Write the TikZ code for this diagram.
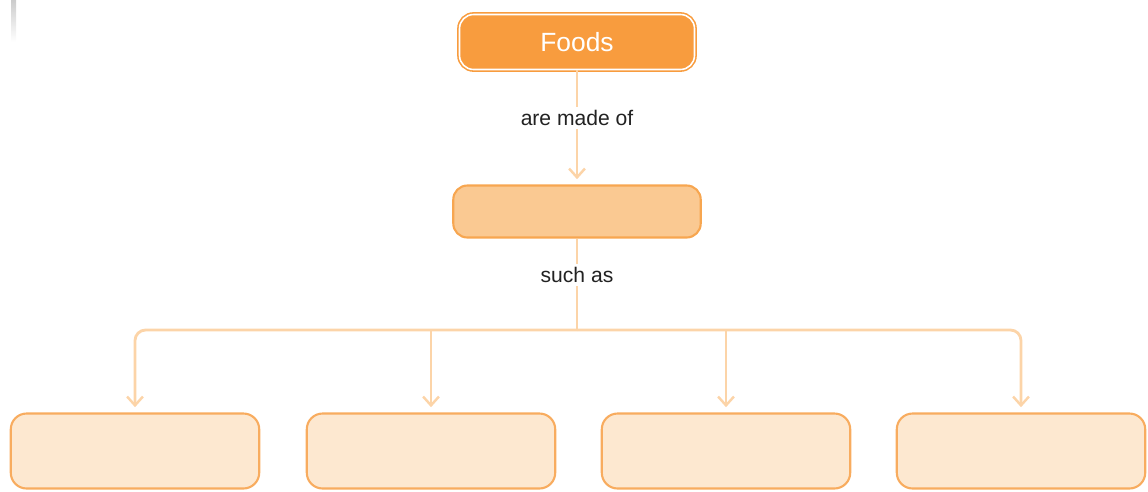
\documentclass[tikz,border=0pt]{standalone}
\usepackage{fontspec}
\setmainfont{Liberation Sans}
\usetikzlibrary{arrows.meta}
\usetikzlibrary{calc}

\definecolor{foods_orange}{RGB}{248,156,62}
\definecolor{mid_fill}{RGB}{250,201,146}
\definecolor{mid_border}{RGB}{247,166,80}
\definecolor{leaf_fill}{RGB}{253,232,208}
\definecolor{leaf_border}{RGB}{248,172,95}
\definecolor{link_color}{RGB}{252,212,168}
\definecolor{label_color}{RGB}{34,34,34}

\begin{document}
\begin{tikzpicture}[x=0.02cm, y=-0.02cm,
        root_style/.style={rectangle, rounded corners=8pt, fill=foods_orange, draw=foods_orange, double=white, double distance=0.9pt, line width=0.9pt, minimum width=4.7cm, minimum height=1.1cm, text=white, font=\fontsize{15}{15}\selectfont},
        mid_style/.style={rectangle, rounded corners=8pt, fill=mid_fill, draw=mid_border, line width=1.2pt, minimum width=4.95cm, minimum height=1.04cm},
        leaf_style/.style={rectangle, rounded corners=9pt, fill=leaf_fill, draw=leaf_border, line width=1.2pt, minimum width=4.97cm, minimum height=1.5cm},
        label_style/.style={fill=white, inner sep=2pt, text=label_color, font=\fontsize{12}{12}\selectfont},
        edge_style/.style={draw=link_color, line width=1.6pt, -{Straight Barb[length=5pt, width=9pt, line width=1.4pt]}, shorten >=3pt},
        line_style/.style={draw=link_color, line width=1.6pt}]

        \useasboundingbox (0,0) rectangle (1148,491);
        \shade [top color=black!20, bottom color=white] (11,0) rectangle (16,42);

        \node [root_style](foods) at (577,42) {Foods};
        \node [mid_style](mid) at (577,211.5) {};
        \node [leaf_style](leaf1) at (135,451) {};
        \node [leaf_style](leaf2) at (431,451) {};
        \node [leaf_style](leaf3) at (726,451) {};
        \node [leaf_style](leaf4) at (1021,451) {};
        \coordinate (split) at (577,330);

        \draw [edge_style] (foods) -- node[label_style, pos=0.42]{are made of} (mid);
        \draw [line_style] (mid) -- node[label_style, pos=0.4]{such as} (split);
        \draw [edge_style, rounded corners=6pt] (split) -| (leaf1);
        \draw [edge_style, rounded corners=6pt] (split) -| (leaf4);
        \draw [edge_style] (split -| leaf2) -- (leaf2);
        \draw [edge_style] (split -| leaf3) -- (leaf3);
\end{tikzpicture}
\end{document}
